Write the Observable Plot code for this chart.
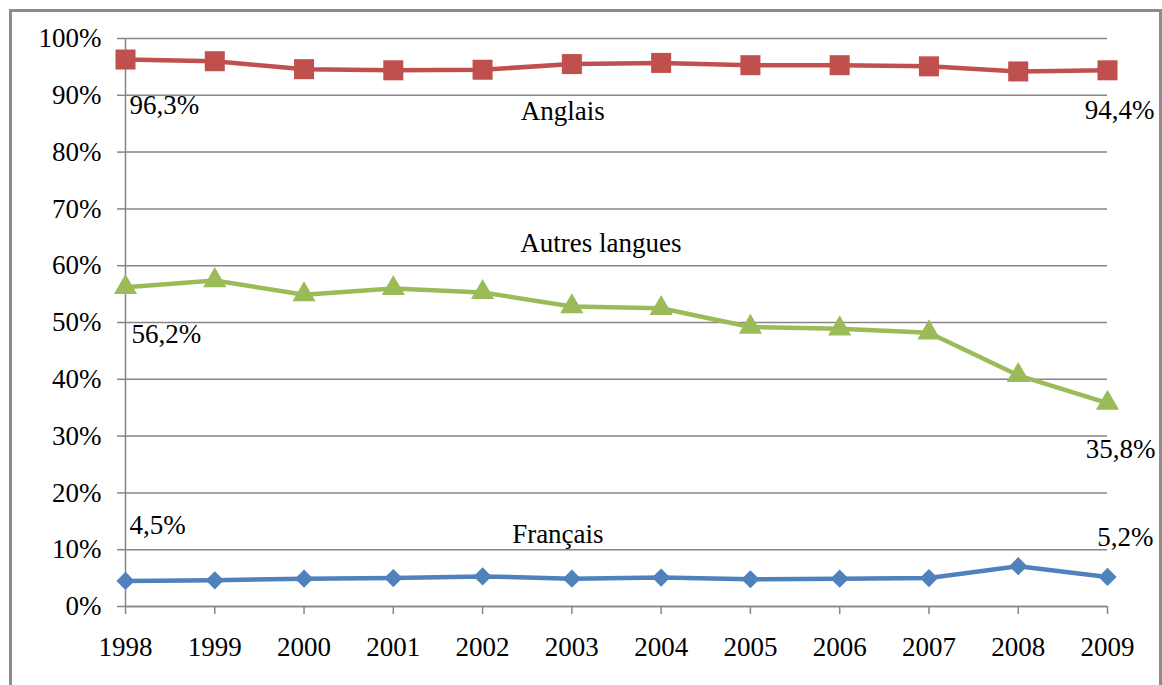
<!DOCTYPE html>
<html>
<head>
<meta charset="utf-8">
<script src="https://cdn.jsdelivr.net/npm/d3@7"></script>
<script src="https://cdn.jsdelivr.net/npm/@observablehq/plot@0.6"></script>
<style>
  html, body { margin: 0; padding: 0; background: #fff; overflow: hidden; }
  #wrap { position: relative; width: 1162px; height: 685px; }
  #border { position: absolute; left: 9px; top: 9px; width: 1153px; height: 700px; box-sizing: border-box; border: 3px solid #8c8c8c; pointer-events: none; }
  #chart { position: absolute; left: 0; top: 0; }
  #chart svg, #chart svg text, #chart svg g { font-family: "Liberation Serif", "Times New Roman", serif !important; }
</style>
</head>
<body>
<div id="wrap"><div id="chart"></div><div id="border"></div></div>
<script>
const years = [1998, 1999, 2000, 2001, 2002, 2003, 2004, 2005, 2006, 2007, 2008, 2009];
const anglais = [96.3, 96.0, 94.6, 94.4, 94.5, 95.5, 95.7, 95.3, 95.3, 95.1, 94.2, 94.4];
const autres  = [56.2, 57.4, 54.9, 56.0, 55.3, 52.8, 52.5, 49.2, 48.9, 48.2, 40.7, 35.8];
const francais = [4.5, 4.6, 4.9, 5.0, 5.3, 4.9, 5.1, 4.8, 4.9, 5.0, 7.1, 5.2];
const seriesNames = ["Anglais", "Autres langues", "Français"];
const yTicks = [0, 10, 20, 30, 40, 50, 60, 70, 80, 90, 100];

const colors = {"Anglais": "#C0504D", "Autres langues": "#9BBB59", "Français": "#4F81BD"};
const symbols = {"Anglais": "square", "Autres langues": "triangle", "Français": "diamond2"};
const radii = {"Anglais": 11.3, "Autres langues": 8.6, "Français": 8.2};

const valuesBy = {"Anglais": anglais, "Autres langues": autres, "Français": francais};
const rows = seriesNames.flatMap(s => years.map((y, i) => ({series: s, year: y, value: valuesBy[s][i]})));

const fmt = v => v.toFixed(1).replace(".", ",") + "%";
const first = seriesNames.map(s => ({series: s, year: years[0], value: valuesBy[s][0]}));
const last = seriesNames.map(s => ({series: s, year: years[years.length - 1], value: valuesBy[s][years.length - 1]}));
const nameAnchor = seriesNames.map(s => ({series: s, year: 2003, value: valuesBy[s][years.indexOf(2003)]}));

const firstOff = {"Anglais": [4, 46], "Autres langues": [6, 47], "Français": [4, -56]};
const lastOff = {"Anglais": [47, 40], "Autres langues": [48, 46], "Français": [46, -40]};
const nameOff = {"Anglais": [-9, 47], "Autres langues": [29, -63], "Français": [-14, -44]};

const font = "Liberation Serif";
const gridColor = "#868686";
const fs = 27;

const marks = [
  Plot.gridY(yTicks, {stroke: gridColor, strokeOpacity: 1, strokeWidth: 1.5}),
  Plot.ruleX([years[0]], {stroke: gridColor, strokeWidth: 1.5}),
  Plot.ruleY([0], {stroke: gridColor, strokeWidth: 1.5}),
  Plot.axisY({ticks: yTicks, tickSize: 8, tickPadding: 16, tickFormat: d => d + "%", stroke: gridColor, strokeWidth: 1.5, fontSize: fs, fontFamily: font, fill: "black", label: null}),
  Plot.axisX({ticks: years, tickSize: 8, tickPadding: 22, tickFormat: d => String(d), stroke: gridColor, strokeWidth: 1.5, fontSize: fs, fontFamily: font, fill: "black", label: null}),
];

for (const s of seriesNames) {
  const data = rows.filter(r => r.series === s);
  marks.push(Plot.line(data, {x: "year", y: "value", stroke: colors[s], strokeWidth: 4.5}));
  marks.push(Plot.dot(data, {x: "year", y: "value", symbol: symbols[s], r: radii[s], fill: colors[s], stroke: "none"}));
  const f = first.filter(d => d.series === s);
  const l = last.filter(d => d.series === s);
  const n = nameAnchor.filter(d => d.series === s);
  marks.push(Plot.text(f, {x: "year", y: "value", text: d => fmt(d.value), textAnchor: "start", dx: firstOff[s][0], dy: firstOff[s][1], fontSize: fs, fontFamily: font, fill: "black"}));
  marks.push(Plot.text(l, {x: "year", y: "value", text: d => fmt(d.value), textAnchor: "end", dx: lastOff[s][0], dy: lastOff[s][1], fontSize: fs, fontFamily: font, fill: "black"}));
  marks.push(Plot.text(n, {x: "year", y: "value", text: d => d.series, textAnchor: "middle", dx: nameOff[s][0], dy: nameOff[s][1], fontSize: fs, fontFamily: font, fill: "black"}));
}

const chart = Plot.plot({
  width: 1162,
  height: 685,
  marginLeft: 125,
  marginRight: 55,
  marginTop: 38,
  marginBottom: 79,
  x: {type: "linear", domain: [1998, 2009]},
  y: {domain: [0, 100]},
  style: {fontFamily: font, fontSize: fs + "px", background: "white", color: "black", overflow: "visible"},
  marks
});
document.getElementById("chart").appendChild(chart);
</script>
</body>
</html>
